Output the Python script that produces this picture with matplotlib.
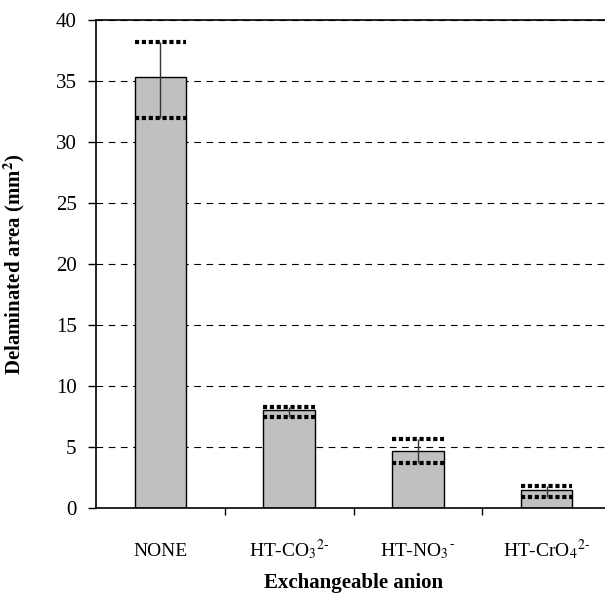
import matplotlib
matplotlib.use('Agg')
import matplotlib.pyplot as plt

plt.rcParams['font.family'] = ['Liberation Serif', 'DejaVu Serif']
plt.rcParams['mathtext.fontset'] = 'stix'

categories = ['NONE', 'HT-CO$_3$$^{2\u2010}$', 'HT-NO$_3$$^{\u2010}$', 'HT-CrO$_4$$^{2\u2010}$']
area = [35.3, 8.0, 4.67, 1.45]
area_hi = [38.2, 8.3, 5.66, 1.8]
area_lo = [32.0, 7.5, 3.7, 0.93]

fig = plt.figure(figsize=(6.05, 5.94), dpi=100)
ax = fig.add_axes([96/605, 1 - 508/594, 515/605, 488/594])

x = range(len(categories))
ax.bar(x, area, width=0.4, color='#c0c0c0', edgecolor='black', linewidth=1, zorder=2)

# error bars: thin stem + square-dotted caps across the bar
ax.vlines(x, area_lo, area_hi, color='#333333', linewidth=1, zorder=3)
for lim in (area_hi, area_lo):
    ax.hlines(lim, [i - 0.2 for i in x], [i + 0.2 for i in x], color='black',
              linewidth=3, linestyles=(0, (1, 0.65)), zorder=4)

ax.set_ylim(0, 40)
ax.set_xlim(-0.5, 3.5)
ax.set_yticks(range(0, 41, 5))
ax.yaxis.grid(True, linestyle=(0, (6, 5)), color='black', linewidth=0.8)
ax.set_axisbelow(True)

ax.set_xticks(list(x))
ax.set_xticklabels(categories, fontsize=14)
for lab in ax.get_xticklabels():
    lab.set_verticalalignment('baseline')
ax.set_xticks([0.5, 1.5, 2.5], minor=True)
ax.tick_params(axis='x', which='major', length=0, pad=34.5)
ax.tick_params(axis='x', which='minor', length=5, direction='out', width=1)
ax.tick_params(axis='y', length=6, width=1, labelsize=15, pad=8)

ax.spines['right'].set_visible(False)
for s in ('left', 'bottom', 'top'):
    ax.spines[s].set_linewidth(1.2)

ax.set_ylabel('Delaminated area (mm$^{\\mathbf{2}}$)', fontsize=15, fontweight='bold')
ax.yaxis.set_label_coords(-0.134, 0.5)
ax.set_xlabel('Exchangeable anion', fontsize=15, fontweight='bold', va='baseline')
ax.xaxis.set_label_coords(0.5, -0.164)

fig.savefig('out.png', dpi=100)
